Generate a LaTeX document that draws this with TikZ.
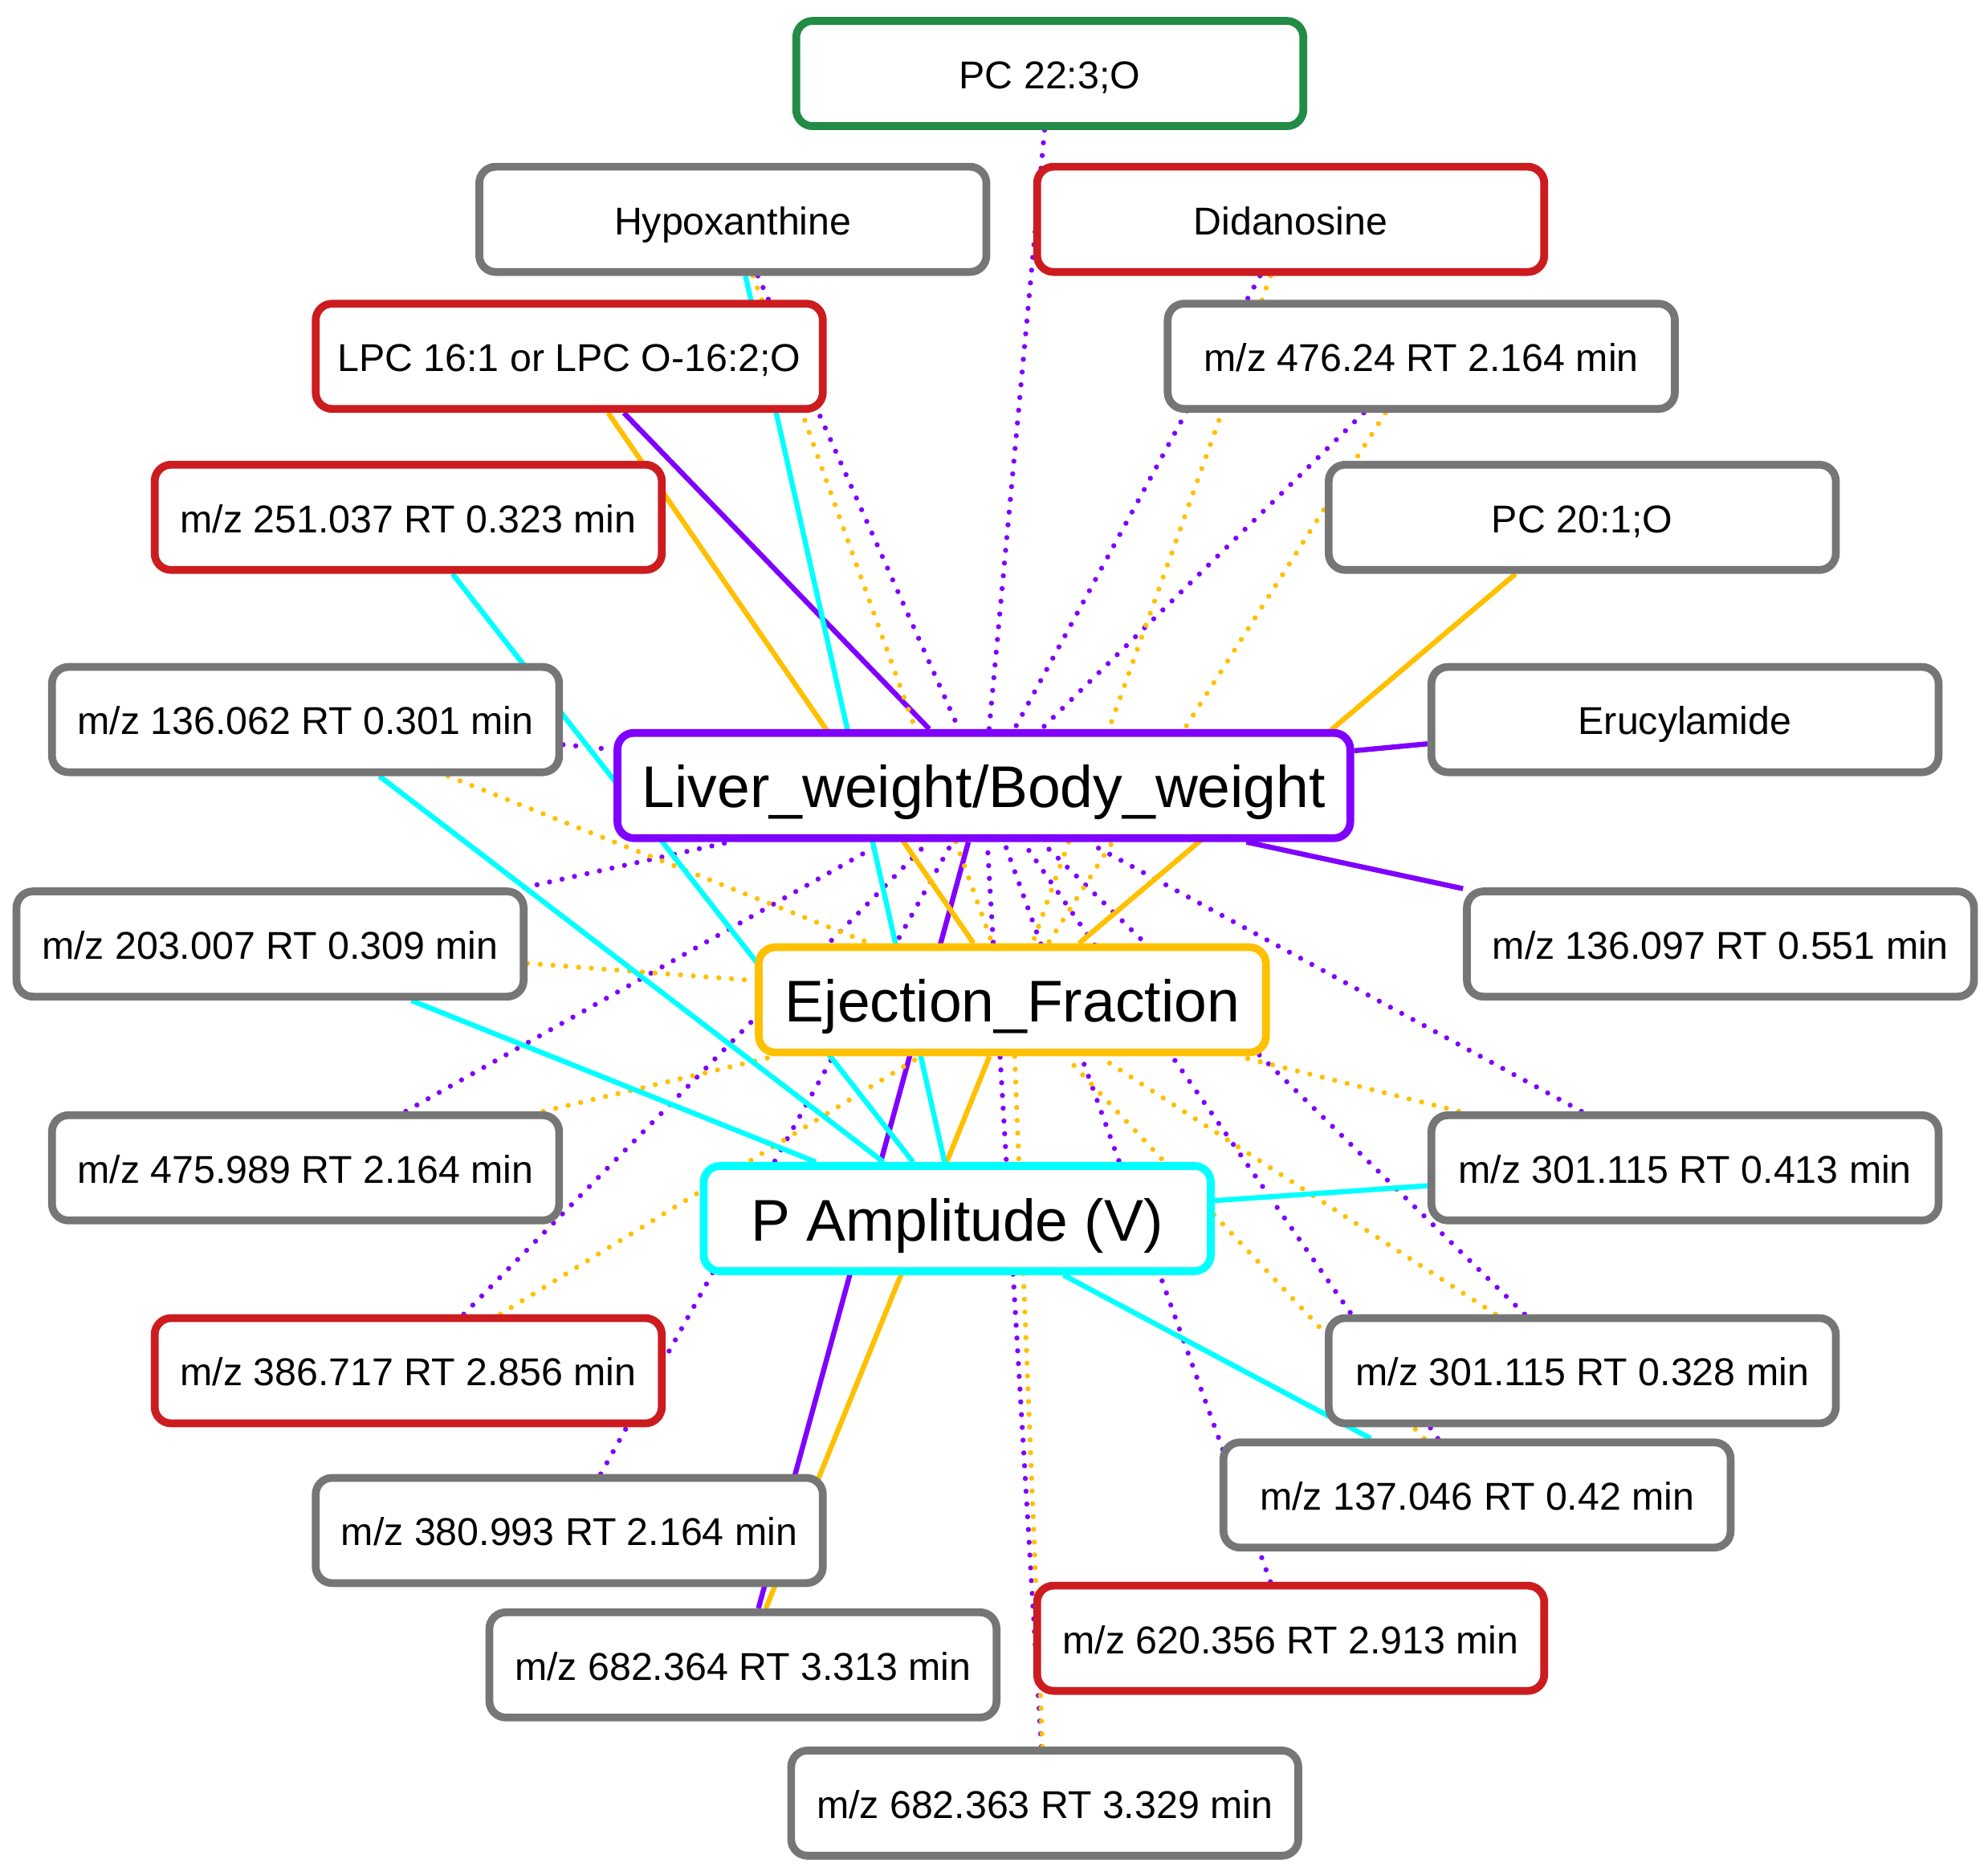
\documentclass[tikz,border=0pt]{standalone}
\usepackage{fontspec}
\setmainfont{Liberation Sans}
\usetikzlibrary{backgrounds}
\definecolor{lwpurple}{HTML}{7F00FF}
\definecolor{efamber}{HTML}{FFC000}
\definecolor{pacyan}{HTML}{00FFFF}
\definecolor{boxgray}{HTML}{767676}
\definecolor{boxred}{HTML}{CC1C1F}
\definecolor{boxgreen}{HTML}{228B45}

\begin{document}
\begin{tikzpicture}[x=0.1mm, y=-0.1mm, metab/.style={rectangle, rounded corners=1.3mm, draw=boxgray, fill=white, line width=1.75pt, minimum width=4cm, minimum height=8.3mm, inner sep=0pt, text height=8pt, text depth=1.2pt, font=\fontsize{8.7}{10}\selectfont}, trait/.style={metab, text height=12pt, text depth=2pt, font=\fontsize{13.2}{15}\selectfont}, hit/.style={draw=boxred}, known/.style={draw=boxgreen}, link/.style={line width=1.15pt}, dots/.style={line width=1.15pt, line cap=round, dash pattern=on 0pt off 2.87pt}, lwsolid/.style={link, draw=lwpurple}, lwdot/.style={dots, draw=lwpurple}, efsolid/.style={link, draw=efamber}, efdot/.style={dots, draw=efamber}, pasolid/.style={link, draw=pacyan}]
\useasboundingbox (0,0) rectangle (1568,1472);
% traits
\node [trait, draw=lwpurple, minimum width=5.78cm] (lw) at (776,619.5) {Liver\_weight/Body\_weight};
\node [trait, draw=efamber] (ef) at (798.5,788.5) {Ejection\_Fraction};
\node [trait, draw=pacyan] (pa) at (755,961) {P Amplitude (V)};
% features
\node [metab, known] (pc223) at (828,58) {PC 22:3;O};
\node [metab] (hypox) at (578,173) {Hypoxanthine};
\node [metab, hit] (didan) at (1018,173) {Didanosine};
\node [metab, hit] (lpc) at (449,281) {LPC 16:1 or LPC O-16:2;O};
\node [metab] (mz476) at (1121,281) {m/z 476.24 RT 2.164 min};
\node [metab, hit] (mz251) at (322,408) {m/z 251.037 RT 0.323 min};
\node [metab] (pc201) at (1248,408) {PC 20:1;O};
\node [metab] (mz136a) at (241,567.5) {m/z 136.062 RT 0.301 min};
\node [metab] (erucyl) at (1329,567.5) {Erucylamide};
\node [metab] (mz203) at (213,744.5) {m/z 203.007 RT 0.309 min};
\node [metab] (mz136b) at (1357,744.5) {m/z 136.097 RT 0.551 min};
\node [metab] (mz475) at (241,921) {m/z 475.989 RT 2.164 min};
\node [metab] (mz301b) at (1329,921) {m/z 301.115 RT 0.413 min};
\node [metab, hit] (mz386) at (322,1081) {m/z 386.717 RT 2.856 min};
\node [metab] (mz301a) at (1248,1081) {m/z 301.115 RT 0.328 min};
\node [metab] (mz137) at (1165,1179) {m/z 137.046 RT 0.42 min};
\node [metab] (mz380) at (449,1207) {m/z 380.993 RT 2.164 min};
\node [metab, hit] (mz620) at (1018,1292) {m/z 620.356 RT 2.913 min};
\node [metab] (mz682a) at (586,1313) {m/z 682.364 RT 3.313 min};
\node [metab] (mz682b) at (824,1422) {m/z 682.363 RT 3.329 min};
\begin{scope}[on background layer]
% Liver_weight/Body_weight
\draw [lwsolid] (lpc) -- (lw);
\draw [lwsolid] (erucyl) -- (lw);
\draw [lwsolid] (mz136b) -- (lw);
\draw [lwsolid] (mz682a) -- (lw);
\draw [lwdot] (pc223) -- (lw);
\draw [lwdot] (hypox) -- (lw);
\draw [lwdot] (didan) -- (lw);
\draw [lwdot] (mz476) -- (lw);
\draw [lwdot] (mz136a) -- (lw);
\draw [lwdot] (mz203) -- (lw);
\draw [lwdot] (mz475) -- (lw);
\draw [lwdot] (mz386) -- (lw);
\draw [lwdot] (mz380) -- (lw);
\draw [lwdot] (mz682b) -- (lw);
\draw [lwdot] (mz620) -- (lw);
\draw [lwdot] (mz137) -- (lw);
\draw [lwdot] (mz301a) -- (lw);
\draw [lwdot] (mz301b) -- (lw);
% Ejection_Fraction
\draw [efsolid] (lpc) -- (ef);
\draw [efsolid] (pc201) -- (ef);
\draw [efsolid] (mz682a) -- (ef);
\draw [efdot] (hypox) -- (ef);
\draw [efdot] (didan) -- (ef);
\draw [efdot] (mz476) -- (ef);
\draw [efdot] (mz136a) -- (ef);
\draw [efdot] (mz203) -- (ef);
\draw [efdot] (mz475) -- (ef);
\draw [efdot] (mz386) -- (ef);
\draw [efdot] (mz682b) -- (ef);
\draw [efdot] (mz137) -- (ef);
\draw [efdot] (mz301a) -- (ef);
\draw [efdot] (mz301b) -- (ef);
% P Amplitude (V)
\draw [pasolid] (hypox) -- (pa);
\draw [pasolid] (mz251) -- (pa);
\draw [pasolid] (mz136a) -- (pa);
\draw [pasolid] (mz203) -- (pa);
\draw [pasolid] (mz301b) -- (pa);
\draw [pasolid] (mz137) -- (pa);
\end{scope}
\end{tikzpicture}
\end{document}
